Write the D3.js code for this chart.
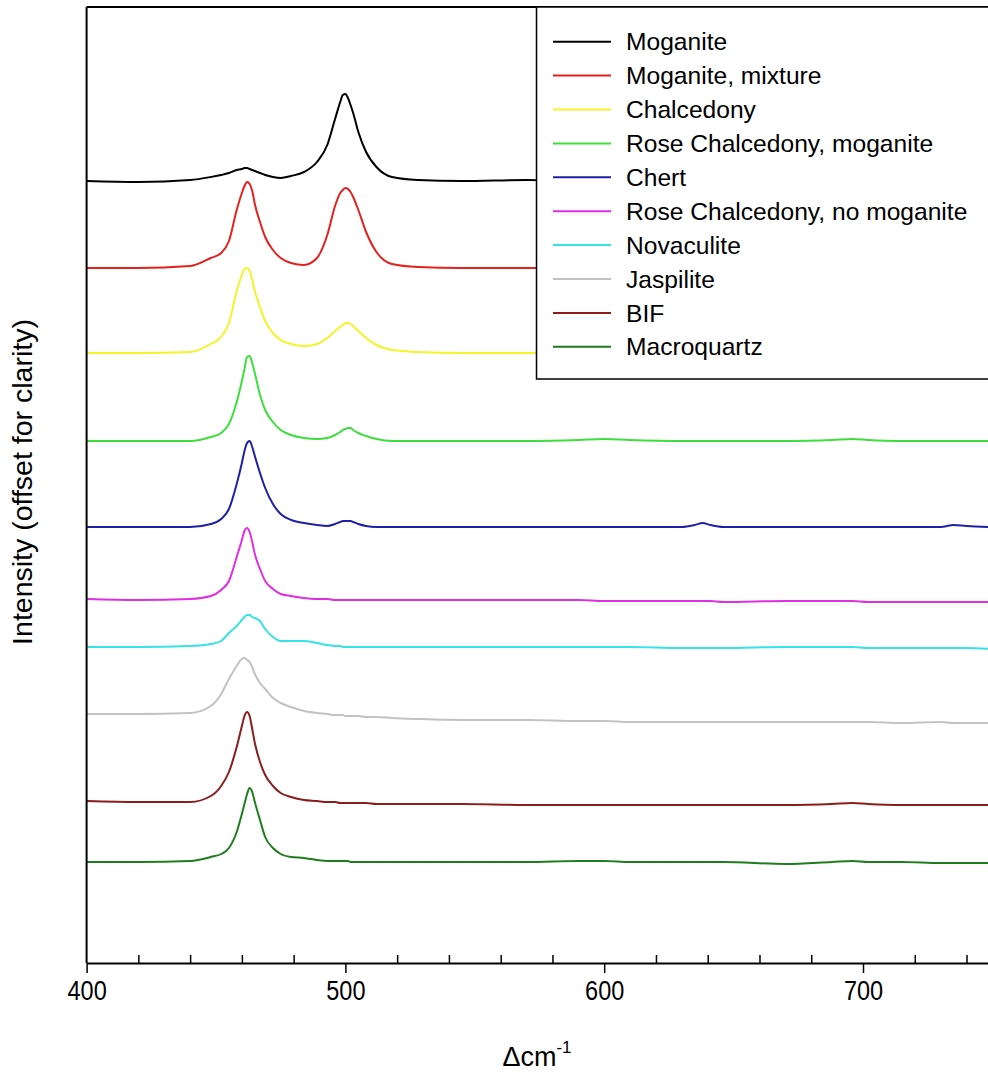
<!DOCTYPE html>
<html>
<head>
<meta charset="utf-8">
<script src="https://cdn.jsdelivr.net/npm/d3@7/dist/d3.min.js"></script>
<style>
  body { margin: 0; background: #fff; }
  text { font-family: "Liberation Sans", Arial, sans-serif; fill: #000; }
</style>
</head>
<body>
<script>
// Raman shift grid (cm^-1), shared by all spectra
const wavenumbers = [
  400, 420, 440, 448, 452, 455, 458, 460, 461, 462,
  463, 464, 465, 467, 469, 472, 475, 479, 484, 489,
  493, 496, 498, 499, 500, 501, 502, 503, 505, 508,
  512, 518, 528, 545, 570, 590, 600, 610, 630, 635,
  638, 641, 646, 670, 688, 696, 702, 715, 730, 735,
  740, 750
];

const sampleNames = [
  "Moganite", "Moganite, mixture", "Chalcedony", "Rose Chalcedony, moganite",
  "Chert", "Rose Chalcedony, no moganite", "Novaculite", "Jaspilite", "BIF", "Macroquartz"
];

const sampleColors = [
  "#000000", "#e3211f", "#f4f428", "#3ddf3d", "#2020a6",
  "#e02fe0", "#35e3e6", "#c2c2c2", "#8b1d1d", "#1f7d1f"
];

// vertical offset of each spectrum (arbitrary units)
const offsets = [782, 695, 610, 522, 436, 363, 316, 249, 161, 101];

// intensities above each offset
const moganite = [
  0, -1, 1, 4, 6, 8, 11, 12, 13, 13,
  12, 11, 10, 8, 6, 4, 3, 5, 9, 19,
  36, 62, 79, 86, 87, 83, 76, 68, 49, 29,
  14, 4, 1, 0, 1, 0, 0, 0, 0, 0,
  0, 0, 0, 0, 0, 0, 0, 0, 0, 0,
  0, 0
];
const moganiteMix = [
  0, 0, 2, 10, 15, 27, 58, 75, 82, 86,
  84, 77, 64, 46, 31, 18, 10, 5, 3, 10,
  33, 62, 75, 78, 80, 79, 76, 71, 58, 36,
  16, 4, 1, 0, 0, 0, 0, 0, 0, 0,
  0, 0, 0, 0, 0, 0, 0, 0, 0, 0,
  0, 0
];
const chalcedony = [
  0, 0, 1, 9, 16, 30, 62, 78, 84, 85,
  82, 73, 62, 46, 32, 20, 13, 9, 7, 9,
  15, 22, 26, 28, 30, 30, 29, 27, 22, 15,
  8, 3, 1, 0, 0, 0, 0, 0, 0, 0,
  0, 0, 0, 0, 0, 0, 0, 0, 0, 0,
  0, 0
];
const roseMoganite = [
  0, 0, 0, 4, 8, 17, 39, 60, 72, 84,
  85, 78, 68, 46, 31, 19, 11, 6, 3, 2,
  3, 6, 9, 11, 12, 13, 13, 11, 8, 5,
  2, 0, 0, 0, 0, 1, 2, 1, 0, 0,
  0, 0, 0, 0, 1, 2, 1, 0, 0, 0,
  0, 0
];
const chert = [
  0, 0, 0, 3, 8, 18, 43, 64, 76, 84,
  86, 80, 71, 54, 39, 23, 13, 7, 4, 2,
  1, 3, 5, 6, 6, 6, 6, 5, 3, 1,
  0, 0, 0, 0, 0, 0, 0, 0, 0, 2,
  4, 2, 0, 0, 0, 0, 0, 0, 0, 2,
  1, 0
];
const roseNoMoganite = [
  1, 0, 1, 4, 10, 19, 43, 60, 69, 72,
  68, 58, 46, 31, 19, 11, 6, 4, 2, 1,
  1, 0, 0, 0, 0, 0, 0, 0, 0, 0,
  0, 0, 0, 0, 0, 0, -1, -1, -1, -1,
  -1, -1, -2, -1, -1, -1, -2, -2, -2, -2,
  -2, -2
];
const novaculite = [
  0, 0, 1, 3, 6, 14, 21, 27, 30, 32,
  32, 30, 29, 26, 18, 10, 6, 6, 6, 4,
  2, 1, 1, 0, 0, 0, 0, 0, 0, 0,
  0, 0, 0, 0, 0, 0, 0, 0, -1, -1,
  -1, -1, -1, 0, 0, 0, -1, -1, -1, -1,
  -1, -2
];
const jaspilite = [
  0, 0, 1, 8, 20, 35, 48, 55, 56, 54,
  52, 47, 40, 31, 25, 16, 11, 7, 3, 1,
  0, -1, -1, -1, -2, -2, -2, -2, -2, -3,
  -3, -4, -5, -6, -6, -7, -7, -8, -8, -8,
  -8, -8, -8, -8, -8, -8, -8, -9, -8, -9,
  -9, -9
];
const bif = [
  1, 0, 0, 6, 16, 30, 55, 76, 86, 90,
  86, 73, 59, 40, 27, 16, 9, 5, 2, 1,
  0, 0, -1, -1, -1, -1, -1, -1, -1, -1,
  -2, -2, -2, -2, -3, -3, -3, -3, -3, -3,
  -3, -3, -3, -3, -2, -1, -2, -3, -3, -3,
  -3, -3
];
const macroquartz = [
  0, 0, 1, 5, 8, 14, 30, 48, 58, 68,
  74, 70, 60, 42, 25, 14, 8, 5, 4, 2,
  1, 1, 1, 1, 1, 1, 0, 0, 0, 0,
  0, 0, 0, 0, 0, 1, 1, 0, 0, 0,
  0, 0, 0, -2, 0, 1, 0, 0, -1, -1,
  -1, -1
];

const intensities = [moganite, moganiteMix, chalcedony, roseMoganite, chert,
  roseNoMoganite, novaculite, jaspilite, bif, macroquartz];

const xMajorTicks = [400, 500, 600, 700];
const xMinorTicks = [420, 440, 460, 480, 520, 540, 560, 580, 620, 640, 660, 680, 720, 740];

// SVG
const width = 988;
const height = 1078;
const svg = d3.select("body")
  .append("svg")
  .attr("width", width)
  .attr("height", height);

svg.append("rect").attr("width", width).attr("height", height).attr("fill", "#fff");

const x = d3.scaleLinear().domain([400, 750]).range([86.6, 86.6 + 350 * 2.588]);
const y = d3.scaleLinear().domain([0, 956]).range([963, 7]);

// spectra
const line = d3.line()
  .x((d, i) => x(wavenumbers[i]))
  .y(d => y(d))
  .curve(d3.curveMonotoneX);

svg.append("g")
  .selectAll("path")
  .data(intensities)
  .enter()
  .append("path")
  .attr("d", (vals, k) => line(vals.map(v => v + offsets[k])))
  .attr("fill", "none")
  .attr("stroke", (d, k) => sampleColors[k])
  .attr("stroke-width", 2)
  .attr("stroke-linejoin", "round");

// frame: left + top
svg.append("line")
  .attr("x1", x(400)).attr("x2", x(400))
  .attr("y1", y(0)).attr("y2", y(956))
  .attr("stroke", "#000").attr("stroke-width", 2);
svg.append("line")
  .attr("x1", x(400)).attr("x2", x(750))
  .attr("y1", y(956)).attr("y2", y(956))
  .attr("stroke", "#000").attr("stroke-width", 2);

// x axis
const xAxis = d3.axisBottom(x)
  .tickValues(xMajorTicks)
  .tickSize(10)
  .tickSizeOuter(0)
  .tickPadding(7)
  .tickFormat(d3.format("d"));

const gx = svg.append("g")
  .attr("transform", `translate(0, ${y(0)})`)
  .call(xAxis);
gx.select(".domain").attr("stroke-width", 2);
gx.selectAll(".tick line").attr("stroke-width", 1.5);
gx.selectAll(".tick text")
  .attr("font-size", 28)
  .attr("transform", "scale(0.84, 1)");

const gxMinor = svg.append("g")
  .attr("transform", `translate(0, ${y(0)})`)
  .call(d3.axisBottom(x).tickValues(xMinorTicks).tickSize(-8).tickSizeOuter(0).tickFormat(""));
gxMinor.select(".domain").remove();
gxMinor.selectAll(".tick line").attr("stroke-width", 1.5);

// axis titles
const xTitle = svg.append("text")
  .attr("x", 537)
  .attr("y", 1066)
  .attr("text-anchor", "middle")
  .attr("font-size", 27);
xTitle.append("tspan").text("\u0394cm");
xTitle.append("tspan").attr("dy", -13).attr("font-size", 17).text("-1");

svg.append("text")
  .attr("transform", "translate(22, 482) rotate(-90)")
  .attr("text-anchor", "middle")
  .attr("dominant-baseline", "central")
  .attr("font-size", 28.5)
  .text("Intensity (offset for clarity)");

// legend
const legend = svg.append("g");
legend.append("rect")
  .attr("x", 536.5).attr("y", 7)
  .attr("width", 500).attr("height", 372)
  .attr("fill", "#fff")
  .attr("stroke", "#000")
  .attr("stroke-width", 1.5);

const rows = legend.selectAll("g.row")
  .data(sampleNames)
  .enter()
  .append("g")
  .attr("class", "row")
  .attr("transform", (d, i) => `translate(0, ${41.7 + i * 33.9})`);

rows.append("line")
  .attr("x1", 553).attr("x2", 611)
  .attr("stroke", (d, i) => sampleColors[i])
  .attr("stroke-width", 2);

rows.append("text")
  .attr("x", 626)
  .attr("dy", "0.35em")
  .attr("font-size", 24.6)
  .text(d => d);
</script>
</body>
</html>
